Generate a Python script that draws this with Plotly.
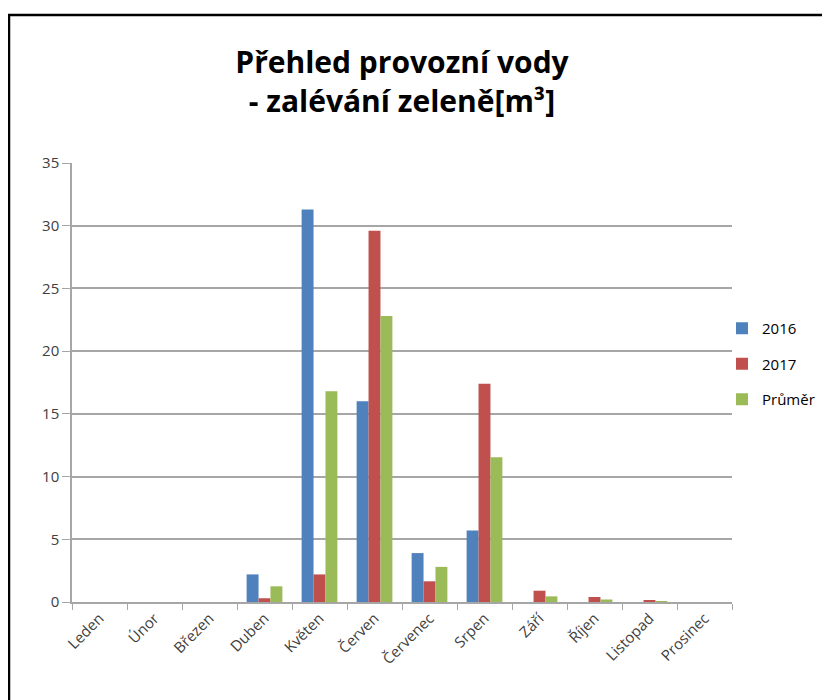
import plotly.graph_objects as go

months = ["Leden", "Únor", "Březen", "Duben", "Květen", "Červen",
          "Červenec", "Srpen", "Září", "Říjen", "Listopad", "Prosinec"]
values_2016 = [0, 0, 0, 2.2, 31.3, 16.0, 3.9, 5.7, 0, 0, 0, 0]
values_2017 = [0, 0, 0, 0.3, 2.2, 29.6, 1.65, 17.4, 0.9, 0.4, 0.15, 0]
values_avg = [0, 0, 0, 1.25, 16.8, 22.8, 2.8, 11.55, 0.45, 0.2, 0.08, 0]

series = [
    ("2016", values_2016, "#4F81BD"),
    ("2017", values_2017, "#C0504D"),
    ("Průměr", values_avg, "#9BBB59"),
]

font_family = "Open Sans, DejaVu Sans, sans-serif"

fig = go.Figure()
for name, vals, color in series:
    fig.add_trace(go.Bar(name=name, x=months, y=vals, marker_color=color,
                         marker_line_width=0, legendgroup=name))

# the page body adds an 8px offset, so the figure is sized/positioned for it
OFF = 8
W, H = 830 - OFF, 700 - OFF
L, R, T, B = 72 - OFF, 98, 163 - OFF, 98
pw, ph = W - L - R, H - T - B


def px_x(x):
    return (x - OFF - L) / pw


def px_y(y):
    return (H - B - (y - OFF)) / ph


# chart area frame
fig.add_shape(type="rect", xref="paper", yref="paper",
              x0=px_x(9), x1=px_x(860), y0=px_y(730), y1=px_y(15),
              line=dict(color="black", width=2.5), fillcolor="rgba(0,0,0,0)",
              layer="below")

fig.update_layout(
    width=W, height=H,
    margin=dict(l=L, r=R, t=T, b=B, autoexpand=False),
    paper_bgcolor="white", plot_bgcolor="white",
    barmode="group", bargap=0.35, bargroupgap=0,
    title=dict(text="<b>Přehled provozní vody<br>- zalévání zeleně[m³]</b>",
               x=(402 - OFF) / W, xanchor="center", y=1 - (73 - OFF) / H,
               yanchor="middle",
               font=dict(family=font_family, size=30, color="black")),
    font=dict(family=font_family, color="#404040"),
    legend=dict(x=px_x(722), xanchor="left", y=px_y(312), yanchor="top",
                font=dict(size=15, color="black"), tracegroupgap=13,
                traceorder="grouped", itemwidth=30,
                bgcolor="rgba(0,0,0,0)"),
    showlegend=True,
)
fig.update_xaxes(showline=True, linecolor="#a6a6a6", linewidth=1.5,
                 ticks="outside", tickson="boundaries", ticklen=6,
                 tickcolor="#a6a6a6", tickangle=-45,
                 tickfont=dict(size=15, color="#404040"), showgrid=False)
fig.update_yaxes(range=[0, 35], dtick=5, showline=True, linecolor="#a6a6a6",
                 linewidth=1.5, ticks="outside", ticklen=8, tickcolor="#a6a6a6",
                 showgrid=True, gridcolor="#a6a6a6", gridwidth=1.5,
                 zeroline=False, tickfont=dict(size=15, color="#404040"))

fig.write_html("out.html")
